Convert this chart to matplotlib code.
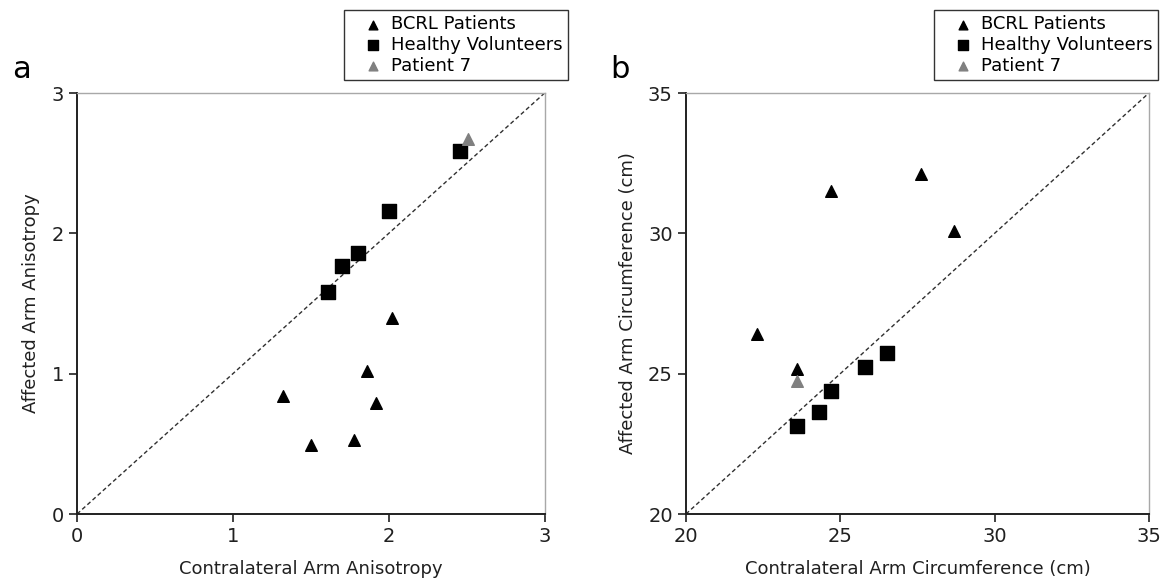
import matplotlib
matplotlib.use("Agg")
import matplotlib.pyplot as plt
from matplotlib import rcParams as defaults

defaults["font.family"] = ["DejaVu Sans"]
defaults["font.size"] = 13

# panel a: anisotropy (contralateral, affected)
aniso_bcrl_x = [1.32, 1.50, 1.78, 1.86, 1.92, 2.02]
aniso_bcrl_y = [0.84, 0.49, 0.53, 1.02, 0.79, 1.40]
aniso_hv_x = [1.61, 1.70, 1.80, 2.00, 2.46]
aniso_hv_y = [1.58, 1.77, 1.86, 2.16, 2.59]
aniso_p7_x = [2.51]
aniso_p7_y = [2.67]

# panel b: circumference in cm (contralateral, affected)
circ_bcrl_x = [22.3, 23.6, 24.7, 27.6, 28.7]
circ_bcrl_y = [26.4, 25.15, 31.5, 32.1, 30.1]
circ_hv_x = [23.6, 24.3, 24.7, 25.8, 26.5]
circ_hv_y = [23.15, 23.65, 24.4, 25.25, 25.75]
circ_p7_x = [23.6]
circ_p7_y = [24.75]

aniso_ticks = [0, 1, 2, 3]
circ_ticks = [20, 25, 30, 35]


def panel(ax, bx, by, hx, hy, px, py, ticks, xlabel, ylabel, letter, letter_x, leg_x):
    lo, hi = ticks[0], ticks[-1]
    ax.plot([lo, hi], [lo, hi], ls=(0, (3, 2)), color="#303030", lw=1.0, zorder=1)
    ax.scatter(bx, by, marker="^", s=70, color="black", label="BCRL Patients", zorder=3)
    ax.scatter(hx, hy, marker="s", s=90, color="black", label="Healthy Volunteers", zorder=3)
    ax.scatter(px, py, marker="^", s=70, color="#808080", label="Patient 7", zorder=3)
    ax.set_xlim(lo, hi)
    ax.set_ylim(lo, hi)
    ax.set_xticks(ticks)
    ax.set_yticks(ticks)
    ax.tick_params(direction="out", length=6, width=1.2, labelsize=14, colors="#202020")
    for side in ["top", "right"]:
        ax.spines[side].set_color("#a8a8a8")
        ax.spines[side].set_linewidth(1.0)
    for side in ["left", "bottom"]:
        ax.spines[side].set_color("#202020")
        ax.spines[side].set_linewidth(1.4)
    ax.set_xlabel(xlabel, fontsize=13, color="#202020", labelpad=10)
    ax.set_ylabel(ylabel, fontsize=13, color="#202020", labelpad=8)
    ax.text(letter_x, 1.055, letter, transform=ax.transAxes, fontsize=22, va="center")
    leg = ax.legend(loc="upper right", bbox_to_anchor=(leg_x, 1.197), frameon=True,
                    fancybox=False, edgecolor="black", fontsize=13, handletextpad=-0.3,
                    borderpad=0.3, labelspacing=0.15, handlelength=2.6, markerscale=0.75,
                    borderaxespad=0)
    leg.get_frame().set_linewidth(1.0)


fig = plt.figure(figsize=(11.69, 5.81), dpi=100)
ax1 = fig.add_axes([0.0659, 0.1153, 0.400, 0.7246])
ax2 = fig.add_axes([0.5868, 0.1153, 0.396, 0.7246])

panel(ax1, aniso_bcrl_x, aniso_bcrl_y, aniso_hv_x, aniso_hv_y, aniso_p7_x, aniso_p7_y,
      aniso_ticks, "Contralateral Arm Anisotropy", "Affected Arm Anisotropy", "a",
      -0.139, 1.051)
panel(ax2, circ_bcrl_x, circ_bcrl_y, circ_hv_x, circ_hv_y, circ_p7_x, circ_p7_y,
      circ_ticks, "Contralateral Arm Circumference (cm)", "Affected Arm Circumference (cm)",
      "b", -0.164, 1.019)

plt.savefig("out.png", dpi=100)
